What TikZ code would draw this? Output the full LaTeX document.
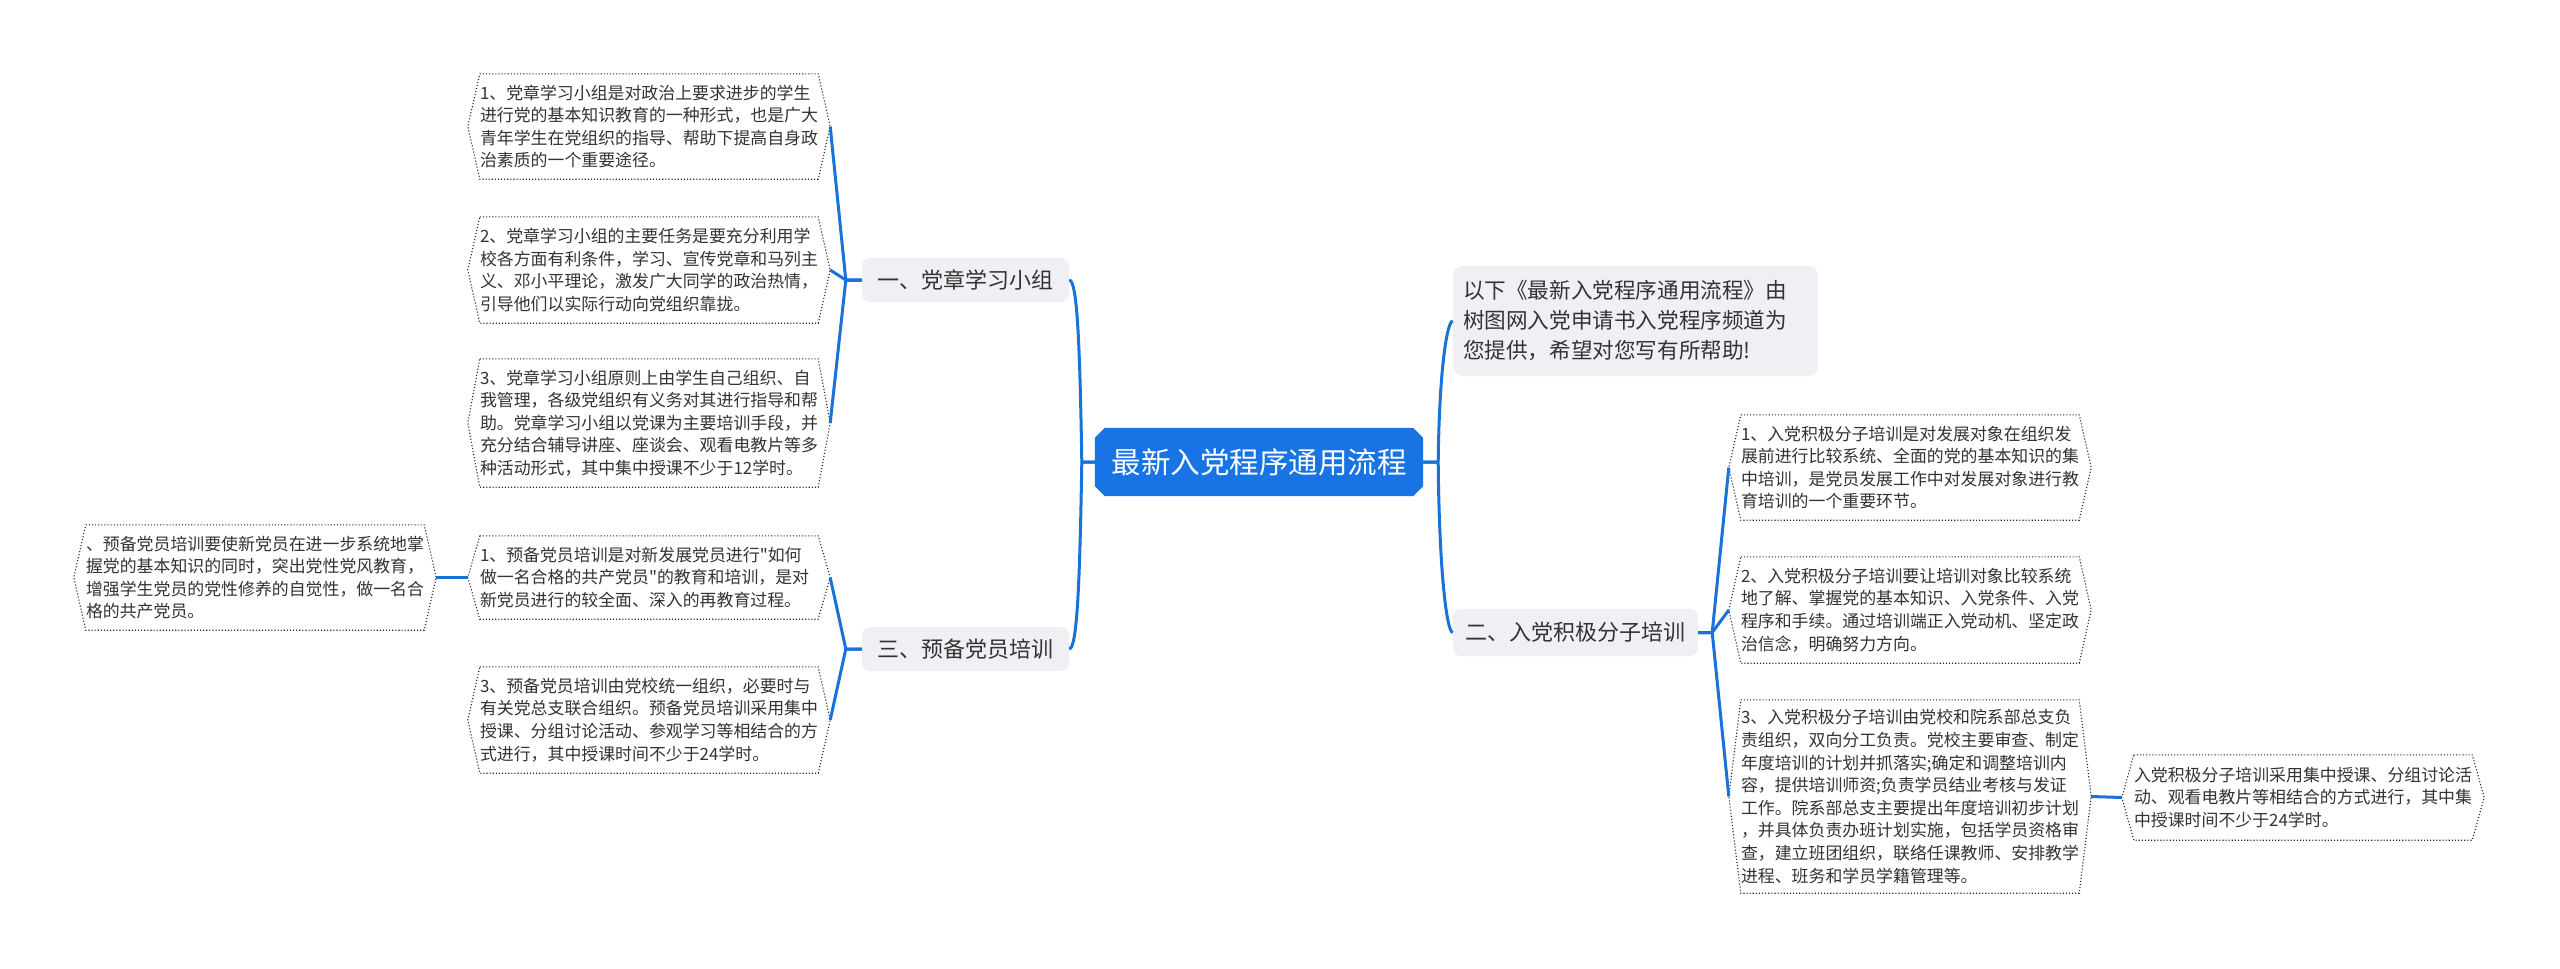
\documentclass[tikz,border=0pt]{standalone}
\usepackage{fontspec}
\newfontfamily\cjk{Noto Sans CJK SC}
\usetikzlibrary{calc}
\definecolor{lineblue}{HTML}{1A72D9}
\definecolor{rootblue}{HTML}{1874E4}
\definecolor{lvgray}{HTML}{EEF0F3}
\definecolor{txt}{HTML}{333333}
\begin{document}
\begin{tikzpicture}[x=1pt,y=-1pt,
  conn/.style={draw=lineblue,line width=3pt,line join=round},
  rootnode/.style={rectangle,inner sep=0pt,minimum width=328pt,minimum height=68pt,
    text=white,font=\cjk\fontsize{29.5}{34}\selectfont},
  lvone/.style={fill=lvgray,rounded corners=8pt,inner sep=0pt,minimum height=44pt,
    text=txt,font=\cjk\fontsize{22}{26}\selectfont},
  intro/.style={fill=lvgray,rounded corners=10pt,inner xsep=10pt,inner ysep=0pt,
    text width=345pt,align=left,minimum height=110pt,
    text=txt,font=\cjk\fontsize{21.6}{30}\selectfont},
  dbox/.style={inner xsep=0pt,inner ysep=0pt,text width=338pt,align=left,
    text=txt,font=\cjk\fontsize{16.9}{22.6}\selectfont},
  dotline/.style={draw=black!85,line width=1.1pt,dotted}
]
\useasboundingbox[fill=white] (0,0) rectangle (2560,969);

% root (chamfered background drawn behind its text)
\node[rootnode] (root) at (1259,462) {\phantom{最}};
\fill[rootblue] ($(root.north west)+(10,0)$) -- ($(root.north east)+(-10,0)$) -- ($(root.north east)+(0,10)$)
  -- ($(root.south east)+(0,-10)$) -- ($(root.south east)+(-10,0)$) -- ($(root.south west)+(10,0)$)
  -- ($(root.south west)+(0,-10)$) -- ($(root.north west)+(0,10)$) -- cycle;
\node[rootnode] (roottext) at (root.center) {最新入党程序通用流程};

% level one
\node[lvone,minimum width=207pt] (n1) at (965.5,280) {一、党章学习小组};
\node[lvone,minimum width=207pt] (n3) at (965.5,649) {三、预备党员培训};
\node[lvone,minimum width=245pt,minimum height=47pt] (n2) at (1575.5,632.5) {二、入党积极分子培训};
\node[intro] (intro) at (1635.5,321) {以下《最新入党程序通用流程》由\\树图网入党申请书入党程序频道为\\您提供，希望对您写有所帮助!};

% left boxes
\node[dbox,minimum height=105pt] (l1a) at (649,126.5) {1、党章学习小组是对政治上要求进步的学生\\进行党的基本知识教育的一种形式，也是广大\\青年学生在党组织的指导、帮助下提高自身政\\治素质的一个重要途径。};
\node[dbox,minimum height=106pt] (l1b) at (649,270) {2、党章学习小组的主要任务是要充分利用学\\校各方面有利条件，学习、宣传党章和马列主\\义、邓小平理论，激发广大同学的政治热情，\\引导他们以实际行动向党组织靠拢。};
\node[dbox,minimum height=128pt] (l1c) at (649,423) {3、党章学习小组原则上由学生自己组织、自\\我管理，各级党组织有义务对其进行指导和帮\\助。党章学习小组以党课为主要培训手段，并\\充分结合辅导讲座、座谈会、观看电教片等多\\种活动形式，其中集中授课不少于12学时。};
\node[dbox,minimum height=83pt] (l3a) at (649,577.5) {1、预备党员培训是对新发展党员进行"如何\\做一名合格的共产党员"的教育和培训，是对\\新党员进行的较全面、深入的再教育过程。};
\node[dbox,minimum height=106pt] (l3c) at (649,720) {3、预备党员培训由党校统一组织，必要时与\\有关党总支联合组织。预备党员培训采用集中\\授课、分组讨论活动、参观学习等相结合的方\\式进行，其中授课时间不少于24学时。};
\node[dbox,minimum height=105pt] (fl) at (255,577.5) {、预备党员培训要使新党员在进一步系统地掌\\握党的基本知识的同时，突出党性党风教育，\\增强学生党员的党性修养的自觉性，做一名合\\格的共产党员。};

% right boxes
\node[dbox,minimum height=105pt] (r1) at (1910,467.5) {1、入党积极分子培训是对发展对象在组织发\\展前进行比较系统、全面的党的基本知识的集\\中培训，是党员发展工作中对发展对象进行教\\育培训的一个重要环节。};
\node[dbox,minimum height=106pt] (r2) at (1910,610) {2、入党积极分子培训要让培训对象比较系统\\地了解、掌握党的基本知识、入党条件、入党\\程序和手续。通过培训端正入党动机、坚定政\\治信念，明确努力方向。};
\node[dbox,minimum height=193pt] (r3) at (1910,796.5) {3、入党积极分子培训由党校和院系部总支负\\责组织，双向分工负责。党校主要审查、制定\\年度培训的计划并抓落实;确定和调整培训内\\容，提供培训师资;负责学员结业考核与发证\\工作。院系部总支主要提出年度培训初步计划\\，并具体负责办班计划实施，包括学员资格审\\查，建立班团组织，联络任课教师、安排教学\\进程、班务和学员学籍管理等。};
\node[dbox,minimum height=85pt] (r4) at (2303,797.5) {入党积极分子培训采用集中授课、分组讨论活\\动、观看电教片等相结合的方式进行，其中集\\中授课时间不少于24学时。};

% dotted hexagon borders
\foreach \n in {l1a,l1b,l1c,l3a,l3c,fl,r1,r2,r3,r4}{
  \draw[dotline] (\n.north west) -- (\n.north east) -- ($(\n.east)+(12,0)$)
    -- (\n.south east) -- (\n.south west) -- ($(\n.west)+(-12,0)$) -- cycle;
}

% connectors from root
\draw[conn] (root.west) -- ++(-13,0) .. controls +(-2,-120) and +(8,0) .. (n1.east);
\draw[conn] (root.west) -- ++(-13,0) .. controls +(-2,120) and +(8,0) .. (n3.east);
\draw[conn] (root.east) -- ++(15,0) .. controls +(1,-90) and +(-6,0) .. (intro.west);
\draw[conn] (root.east) -- ++(15,0) .. controls +(1,110) and +(-6,0) .. (n2.west);

% level one to boxes
\draw[conn] (n1.west) -- ++(-16,0) -- ($(l1a.east)+(12,0)$);
\draw[conn] (n1.west) -- ++(-16,0) -- ($(l1b.east)+(12,0)$);
\draw[conn] (n1.west) -- ++(-16,0) -- ($(l1c.east)+(12,0)$);
\draw[conn] (n3.west) -- ++(-16,0) -- ($(l3a.east)+(12,0)$);
\draw[conn] (n3.west) -- ++(-16,0) -- ($(l3c.east)+(12,0)$);
\draw[conn] ($(l3a.west)+(-12,0)$) -- ($(fl.east)+(12,0)$);
\draw[conn] (n2.east) -- ++(14,0) -- ($(r1.west)+(-12,0)$);
\draw[conn] (n2.east) -- ++(14,0) -- ($(r2.west)+(-12,0)$);
\draw[conn] (n2.east) -- ++(14,0) -- ($(r3.west)+(-12,0)$);
\draw[conn] ($(r3.east)+(12,0)$) -- ($(r4.west)+(-12,0)$);
\end{tikzpicture}
\end{document}
